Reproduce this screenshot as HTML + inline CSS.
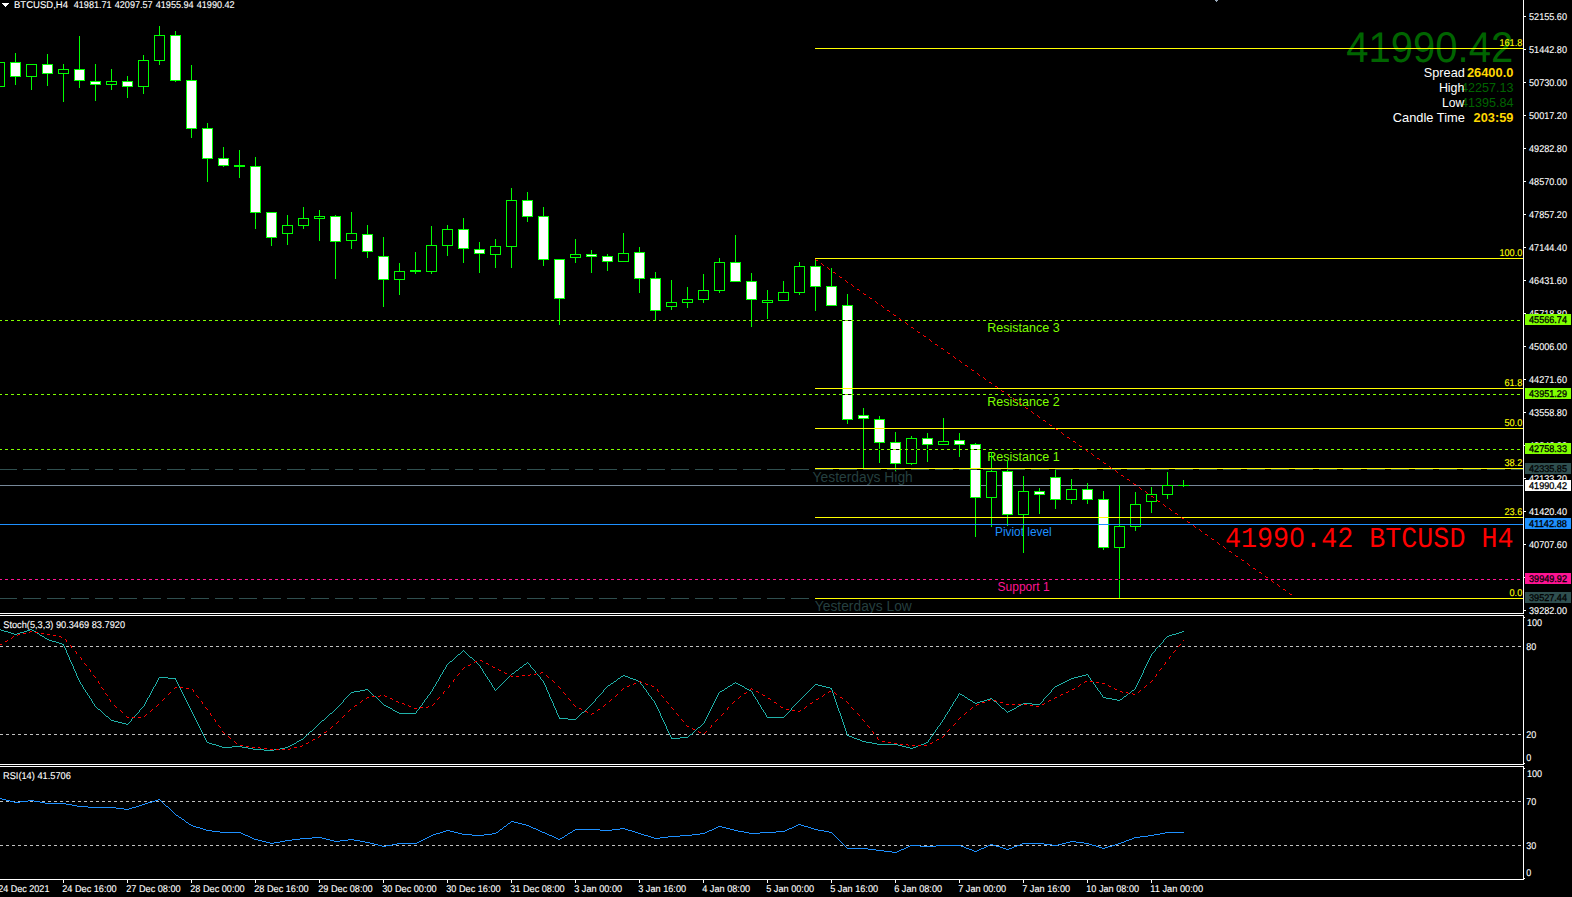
<!DOCTYPE html>
<html><head><meta charset="utf-8"><title>BTCUSD,H4</title>
<style>
html,body{margin:0;padding:0;background:#000;}
body{width:1572px;height:897px;overflow:hidden;position:relative;font-family:"Liberation Sans",sans-serif;}
svg{position:absolute;left:0;top:0;display:block}
text{white-space:pre}
</style></head><body>
<svg width="1572" height="897" viewBox="0 0 1572 897" shape-rendering="crispEdges" text-rendering="geometricPrecision">
<rect x="0" y="0" width="1572" height="897" fill="#000"/>
<text x="1513.2" y="61.7" font-size="43" fill="#006400" font-family="'Liberation Sans', sans-serif" text-anchor="end" textLength="167" lengthAdjust="spacingAndGlyphs">41990.42</text>
<text x="987.3" y="332" font-size="12.5" fill="#7FFF00" font-family="'Liberation Sans', sans-serif" textLength="72.4" lengthAdjust="spacingAndGlyphs" text-rendering="auto">Resistance 3</text>
<text x="987.3" y="406" font-size="12.5" fill="#7FFF00" font-family="'Liberation Sans', sans-serif" textLength="72.4" lengthAdjust="spacingAndGlyphs" text-rendering="auto">Resistance 2</text>
<text x="987.3" y="461" font-size="12.5" fill="#7FFF00" font-family="'Liberation Sans', sans-serif" textLength="72.4" lengthAdjust="spacingAndGlyphs" text-rendering="auto">Resistance 1</text>
<text x="995" y="536.2" font-size="12.5" fill="#1E90FF" font-family="'Liberation Sans', sans-serif" textLength="56.6" lengthAdjust="spacingAndGlyphs" text-rendering="auto">Piviot level</text>
<text x="997.6" y="591.3" font-size="12.5" fill="#FF1493" font-family="'Liberation Sans', sans-serif" textLength="52" lengthAdjust="spacingAndGlyphs" text-rendering="auto">Support 1</text>
<text x="812.6" y="482" font-size="14" fill="#2F4F4F" font-family="'Liberation Sans', sans-serif" textLength="100.2" lengthAdjust="spacingAndGlyphs" fill-opacity="0.82" text-rendering="auto">Yesterdays High</text>
<text x="814.8" y="611" font-size="14" fill="#2F4F4F" font-family="'Liberation Sans', sans-serif" textLength="97" lengthAdjust="spacingAndGlyphs" fill-opacity="0.82" text-rendering="auto">Yesterdays Low</text>
<rect x="0" y="485" width="1523" height="1" fill="#778899"/>
<rect x="-1" y="62" width="1" height="25" fill="#00FF00"/>
<rect x="-6" y="62" width="11" height="25" fill="#00FF00"/>
<rect x="-5" y="63" width="9" height="23" fill="#000"/>
<rect x="15" y="53" width="1" height="32" fill="#00FF00"/>
<rect x="10" y="62" width="11" height="15" fill="#00FF00"/>
<rect x="11" y="63" width="9" height="13" fill="#FFF"/>
<rect x="31" y="64" width="1" height="26" fill="#00FF00"/>
<rect x="26" y="64" width="11" height="13" fill="#00FF00"/>
<rect x="27" y="65" width="9" height="11" fill="#000"/>
<rect x="47" y="54" width="1" height="32" fill="#00FF00"/>
<rect x="42" y="64" width="11" height="10" fill="#00FF00"/>
<rect x="43" y="65" width="9" height="8" fill="#FFF"/>
<rect x="63" y="64" width="1" height="38" fill="#00FF00"/>
<rect x="58" y="69" width="11" height="5" fill="#00FF00"/>
<rect x="59" y="70" width="9" height="3" fill="#000"/>
<rect x="79" y="36" width="1" height="52" fill="#00FF00"/>
<rect x="74" y="69" width="11" height="12" fill="#00FF00"/>
<rect x="75" y="70" width="9" height="10" fill="#FFF"/>
<rect x="95" y="64" width="1" height="37" fill="#00FF00"/>
<rect x="90" y="81" width="11" height="4" fill="#00FF00"/>
<rect x="91" y="82" width="9" height="2" fill="#FFF"/>
<rect x="111" y="69" width="1" height="21" fill="#00FF00"/>
<rect x="106" y="81" width="11" height="4" fill="#00FF00"/>
<rect x="107" y="82" width="9" height="2" fill="#000"/>
<rect x="127" y="76" width="1" height="22" fill="#00FF00"/>
<rect x="122" y="81" width="11" height="6" fill="#00FF00"/>
<rect x="123" y="82" width="9" height="4" fill="#FFF"/>
<rect x="143" y="55" width="1" height="39" fill="#00FF00"/>
<rect x="138" y="60" width="11" height="27" fill="#00FF00"/>
<rect x="139" y="61" width="9" height="25" fill="#000"/>
<rect x="159" y="26" width="1" height="39" fill="#00FF00"/>
<rect x="154" y="35" width="11" height="26" fill="#00FF00"/>
<rect x="155" y="36" width="9" height="24" fill="#000"/>
<rect x="175" y="31" width="1" height="51" fill="#00FF00"/>
<rect x="170" y="35" width="11" height="46" fill="#00FF00"/>
<rect x="171" y="36" width="9" height="44" fill="#FFF"/>
<rect x="191" y="65" width="1" height="73" fill="#00FF00"/>
<rect x="186" y="80" width="11" height="49" fill="#00FF00"/>
<rect x="187" y="81" width="9" height="47" fill="#FFF"/>
<rect x="207" y="123" width="1" height="59" fill="#00FF00"/>
<rect x="202" y="128" width="11" height="31" fill="#00FF00"/>
<rect x="203" y="129" width="9" height="29" fill="#FFF"/>
<rect x="223" y="147" width="1" height="20" fill="#00FF00"/>
<rect x="218" y="158" width="11" height="8" fill="#00FF00"/>
<rect x="219" y="159" width="9" height="6" fill="#FFF"/>
<rect x="239" y="150" width="1" height="28" fill="#00FF00"/>
<rect x="234" y="165" width="11" height="2" fill="#00FF00"/>
<rect x="255" y="157" width="1" height="72" fill="#00FF00"/>
<rect x="250" y="166" width="11" height="47" fill="#00FF00"/>
<rect x="251" y="167" width="9" height="45" fill="#FFF"/>
<rect x="271" y="212" width="1" height="34" fill="#00FF00"/>
<rect x="266" y="212" width="11" height="26" fill="#00FF00"/>
<rect x="267" y="213" width="9" height="24" fill="#FFF"/>
<rect x="287" y="215" width="1" height="30" fill="#00FF00"/>
<rect x="282" y="225" width="11" height="9" fill="#00FF00"/>
<rect x="283" y="226" width="9" height="7" fill="#000"/>
<rect x="303" y="207" width="1" height="22" fill="#00FF00"/>
<rect x="298" y="218" width="11" height="8" fill="#00FF00"/>
<rect x="299" y="219" width="9" height="6" fill="#000"/>
<rect x="319" y="210" width="1" height="31" fill="#00FF00"/>
<rect x="314" y="216" width="11" height="3" fill="#00FF00"/>
<rect x="315" y="217" width="9" height="1" fill="#000"/>
<rect x="335" y="215" width="1" height="64" fill="#00FF00"/>
<rect x="330" y="216" width="11" height="26" fill="#00FF00"/>
<rect x="331" y="217" width="9" height="24" fill="#FFF"/>
<rect x="351" y="212" width="1" height="37" fill="#00FF00"/>
<rect x="346" y="233" width="11" height="8" fill="#00FF00"/>
<rect x="347" y="234" width="9" height="6" fill="#000"/>
<rect x="367" y="225" width="1" height="33" fill="#00FF00"/>
<rect x="362" y="234" width="11" height="18" fill="#00FF00"/>
<rect x="363" y="235" width="9" height="16" fill="#FFF"/>
<rect x="383" y="237" width="1" height="70" fill="#00FF00"/>
<rect x="378" y="256" width="11" height="24" fill="#00FF00"/>
<rect x="379" y="257" width="9" height="22" fill="#FFF"/>
<rect x="399" y="263" width="1" height="32" fill="#00FF00"/>
<rect x="394" y="271" width="11" height="9" fill="#00FF00"/>
<rect x="395" y="272" width="9" height="7" fill="#000"/>
<rect x="415" y="252" width="1" height="22" fill="#00FF00"/>
<rect x="410" y="270" width="11" height="2" fill="#00FF00"/>
<rect x="431" y="226" width="1" height="48" fill="#00FF00"/>
<rect x="426" y="245" width="11" height="27" fill="#00FF00"/>
<rect x="427" y="246" width="9" height="25" fill="#000"/>
<rect x="447" y="225" width="1" height="31" fill="#00FF00"/>
<rect x="442" y="229" width="11" height="17" fill="#00FF00"/>
<rect x="443" y="230" width="9" height="15" fill="#000"/>
<rect x="463" y="218" width="1" height="45" fill="#00FF00"/>
<rect x="458" y="229" width="11" height="20" fill="#00FF00"/>
<rect x="459" y="230" width="9" height="18" fill="#FFF"/>
<rect x="479" y="242" width="1" height="31" fill="#00FF00"/>
<rect x="474" y="249" width="11" height="5" fill="#00FF00"/>
<rect x="475" y="250" width="9" height="3" fill="#FFF"/>
<rect x="495" y="239" width="1" height="29" fill="#00FF00"/>
<rect x="490" y="246" width="11" height="9" fill="#00FF00"/>
<rect x="491" y="247" width="9" height="7" fill="#000"/>
<rect x="511" y="188" width="1" height="80" fill="#00FF00"/>
<rect x="506" y="200" width="11" height="47" fill="#00FF00"/>
<rect x="507" y="201" width="9" height="45" fill="#000"/>
<rect x="527" y="192" width="1" height="30" fill="#00FF00"/>
<rect x="522" y="200" width="11" height="17" fill="#00FF00"/>
<rect x="523" y="201" width="9" height="15" fill="#FFF"/>
<rect x="543" y="207" width="1" height="59" fill="#00FF00"/>
<rect x="538" y="216" width="11" height="44" fill="#00FF00"/>
<rect x="539" y="217" width="9" height="42" fill="#FFF"/>
<rect x="559" y="259" width="1" height="66" fill="#00FF00"/>
<rect x="554" y="259" width="11" height="40" fill="#00FF00"/>
<rect x="555" y="260" width="9" height="38" fill="#FFF"/>
<rect x="575" y="239" width="1" height="24" fill="#00FF00"/>
<rect x="570" y="254" width="11" height="4" fill="#00FF00"/>
<rect x="571" y="255" width="9" height="2" fill="#000"/>
<rect x="591" y="250" width="1" height="23" fill="#00FF00"/>
<rect x="586" y="254" width="11" height="3" fill="#00FF00"/>
<rect x="587" y="255" width="9" height="1" fill="#FFF"/>
<rect x="607" y="254" width="1" height="17" fill="#00FF00"/>
<rect x="602" y="256" width="11" height="6" fill="#00FF00"/>
<rect x="603" y="257" width="9" height="4" fill="#FFF"/>
<rect x="623" y="233" width="1" height="29" fill="#00FF00"/>
<rect x="618" y="253" width="11" height="9" fill="#00FF00"/>
<rect x="619" y="254" width="9" height="7" fill="#000"/>
<rect x="639" y="247" width="1" height="46" fill="#00FF00"/>
<rect x="634" y="252" width="11" height="27" fill="#00FF00"/>
<rect x="635" y="253" width="9" height="25" fill="#FFF"/>
<rect x="655" y="272" width="1" height="49" fill="#00FF00"/>
<rect x="650" y="278" width="11" height="33" fill="#00FF00"/>
<rect x="651" y="279" width="9" height="31" fill="#FFF"/>
<rect x="671" y="280" width="1" height="30" fill="#00FF00"/>
<rect x="666" y="302" width="11" height="5" fill="#00FF00"/>
<rect x="667" y="303" width="9" height="3" fill="#000"/>
<rect x="687" y="287" width="1" height="21" fill="#00FF00"/>
<rect x="682" y="299" width="11" height="4" fill="#00FF00"/>
<rect x="683" y="300" width="9" height="2" fill="#000"/>
<rect x="703" y="274" width="1" height="29" fill="#00FF00"/>
<rect x="698" y="290" width="11" height="10" fill="#00FF00"/>
<rect x="699" y="291" width="9" height="8" fill="#000"/>
<rect x="719" y="258" width="1" height="35" fill="#00FF00"/>
<rect x="714" y="262" width="11" height="29" fill="#00FF00"/>
<rect x="715" y="263" width="9" height="27" fill="#000"/>
<rect x="735" y="235" width="1" height="47" fill="#00FF00"/>
<rect x="730" y="262" width="11" height="20" fill="#00FF00"/>
<rect x="731" y="263" width="9" height="18" fill="#FFF"/>
<rect x="751" y="273" width="1" height="54" fill="#00FF00"/>
<rect x="746" y="281" width="11" height="19" fill="#00FF00"/>
<rect x="747" y="282" width="9" height="17" fill="#FFF"/>
<rect x="767" y="290" width="1" height="29" fill="#00FF00"/>
<rect x="762" y="300" width="11" height="3" fill="#00FF00"/>
<rect x="763" y="301" width="9" height="1" fill="#000"/>
<rect x="783" y="281" width="1" height="20" fill="#00FF00"/>
<rect x="778" y="292" width="11" height="9" fill="#00FF00"/>
<rect x="779" y="293" width="9" height="7" fill="#000"/>
<rect x="799" y="262" width="1" height="33" fill="#00FF00"/>
<rect x="794" y="266" width="11" height="27" fill="#00FF00"/>
<rect x="795" y="267" width="9" height="25" fill="#000"/>
<rect x="815" y="258" width="1" height="53" fill="#00FF00"/>
<rect x="810" y="266" width="11" height="21" fill="#00FF00"/>
<rect x="811" y="267" width="9" height="19" fill="#FFF"/>
<rect x="831" y="268" width="1" height="38" fill="#00FF00"/>
<rect x="826" y="286" width="11" height="20" fill="#00FF00"/>
<rect x="827" y="287" width="9" height="18" fill="#FFF"/>
<rect x="847" y="294" width="1" height="130" fill="#00FF00"/>
<rect x="842" y="305" width="11" height="115" fill="#00FF00"/>
<rect x="843" y="306" width="9" height="113" fill="#FFF"/>
<rect x="863" y="408" width="1" height="61" fill="#00FF00"/>
<rect x="858" y="415" width="11" height="4" fill="#00FF00"/>
<rect x="859" y="416" width="9" height="2" fill="#FFF"/>
<rect x="879" y="416" width="1" height="47" fill="#00FF00"/>
<rect x="874" y="419" width="11" height="24" fill="#00FF00"/>
<rect x="875" y="420" width="9" height="22" fill="#FFF"/>
<rect x="895" y="432" width="1" height="39" fill="#00FF00"/>
<rect x="890" y="442" width="11" height="22" fill="#00FF00"/>
<rect x="891" y="443" width="9" height="20" fill="#FFF"/>
<rect x="911" y="436" width="1" height="29" fill="#00FF00"/>
<rect x="906" y="438" width="11" height="26" fill="#00FF00"/>
<rect x="907" y="439" width="9" height="24" fill="#000"/>
<rect x="927" y="433" width="1" height="29" fill="#00FF00"/>
<rect x="922" y="438" width="11" height="7" fill="#00FF00"/>
<rect x="923" y="439" width="9" height="5" fill="#FFF"/>
<rect x="943" y="418" width="1" height="27" fill="#00FF00"/>
<rect x="938" y="441" width="11" height="4" fill="#00FF00"/>
<rect x="939" y="442" width="9" height="2" fill="#000"/>
<rect x="959" y="433" width="1" height="24" fill="#00FF00"/>
<rect x="954" y="440" width="11" height="5" fill="#00FF00"/>
<rect x="955" y="441" width="9" height="3" fill="#FFF"/>
<rect x="975" y="443" width="1" height="94" fill="#00FF00"/>
<rect x="970" y="444" width="11" height="54" fill="#00FF00"/>
<rect x="971" y="445" width="9" height="52" fill="#FFF"/>
<rect x="991" y="452" width="1" height="75" fill="#00FF00"/>
<rect x="986" y="471" width="11" height="27" fill="#00FF00"/>
<rect x="987" y="472" width="9" height="25" fill="#000"/>
<rect x="1007" y="460" width="1" height="66" fill="#00FF00"/>
<rect x="1002" y="471" width="11" height="44" fill="#00FF00"/>
<rect x="1003" y="472" width="9" height="42" fill="#FFF"/>
<rect x="1023" y="476" width="1" height="77" fill="#00FF00"/>
<rect x="1018" y="491" width="11" height="24" fill="#00FF00"/>
<rect x="1019" y="492" width="9" height="22" fill="#000"/>
<rect x="1039" y="488" width="1" height="26" fill="#00FF00"/>
<rect x="1034" y="491" width="11" height="4" fill="#00FF00"/>
<rect x="1035" y="492" width="9" height="2" fill="#FFF"/>
<rect x="1055" y="470" width="1" height="39" fill="#00FF00"/>
<rect x="1050" y="477" width="11" height="23" fill="#00FF00"/>
<rect x="1051" y="478" width="9" height="21" fill="#FFF"/>
<rect x="1071" y="479" width="1" height="25" fill="#00FF00"/>
<rect x="1066" y="489" width="11" height="11" fill="#00FF00"/>
<rect x="1067" y="490" width="9" height="9" fill="#000"/>
<rect x="1087" y="483" width="1" height="21" fill="#00FF00"/>
<rect x="1082" y="489" width="11" height="11" fill="#00FF00"/>
<rect x="1083" y="490" width="9" height="9" fill="#FFF"/>
<rect x="1103" y="491" width="1" height="59" fill="#00FF00"/>
<rect x="1098" y="499" width="11" height="49" fill="#00FF00"/>
<rect x="1099" y="500" width="9" height="47" fill="#FFF"/>
<rect x="1119" y="485" width="1" height="114" fill="#00FF00"/>
<rect x="1114" y="526" width="11" height="22" fill="#00FF00"/>
<rect x="1115" y="527" width="9" height="20" fill="#000"/>
<rect x="1135" y="492" width="1" height="39" fill="#00FF00"/>
<rect x="1130" y="504" width="11" height="23" fill="#00FF00"/>
<rect x="1131" y="505" width="9" height="21" fill="#000"/>
<rect x="1151" y="487" width="1" height="26" fill="#00FF00"/>
<rect x="1146" y="494" width="11" height="8" fill="#00FF00"/>
<rect x="1147" y="495" width="9" height="6" fill="#000"/>
<rect x="1167" y="472" width="1" height="27" fill="#00FF00"/>
<rect x="1162" y="485" width="11" height="10" fill="#00FF00"/>
<rect x="1163" y="486" width="9" height="8" fill="#000"/>
<rect x="1183" y="480" width="1" height="7" fill="#00FF00"/>
<rect x="1178" y="485" width="11" height="1" fill="#00FF00"/>
<rect x="0" y="469" width="1523" height="1" fill="#000"/>
<line x1="0" y1="469.5" x2="1523" y2="469.5" stroke="#2F4F4F" stroke-width="1" stroke-dasharray="18 6" stroke-dashoffset="1"/>
<rect x="0" y="598" width="1523" height="1" fill="#000"/>
<line x1="0" y1="598.5" x2="1523" y2="598.5" stroke="#2F4F4F" stroke-width="1" stroke-dasharray="18 6" stroke-dashoffset="1"/>
<rect x="0" y="320" width="1523" height="1" fill="#000"/>
<line x1="0" y1="320.5" x2="1523" y2="320.5" stroke="#7FFF00" stroke-width="1" stroke-dasharray="3 3" stroke-dashoffset="1"/>
<rect x="0" y="394" width="1523" height="1" fill="#000"/>
<line x1="0" y1="394.5" x2="1523" y2="394.5" stroke="#7FFF00" stroke-width="1" stroke-dasharray="3 3" stroke-dashoffset="1"/>
<rect x="0" y="449" width="1523" height="1" fill="#000"/>
<line x1="0" y1="449.5" x2="1523" y2="449.5" stroke="#7FFF00" stroke-width="1" stroke-dasharray="3 3" stroke-dashoffset="1"/>
<rect x="0" y="579" width="1523" height="1" fill="#000"/>
<line x1="0" y1="579.5" x2="1523" y2="579.5" stroke="#FF1493" stroke-width="1" stroke-dasharray="3 3" stroke-dashoffset="1"/>
<rect x="0" y="524" width="1523" height="1" fill="#1E90FF"/>
<rect x="815" y="48" width="708" height="1" fill="#FFFF00"/>
<rect x="815" y="258" width="708" height="1" fill="#FFFF00"/>
<rect x="815" y="388" width="708" height="1" fill="#FFFF00"/>
<rect x="815" y="428" width="708" height="1" fill="#FFFF00"/>
<rect x="815" y="468" width="708" height="1" fill="#FFFF00"/>
<rect x="815" y="517" width="708" height="1" fill="#FFFF00"/>
<rect x="815" y="598" width="708" height="1" fill="#FFFF00"/>
<path d="M816 260.5h2M833 272.5h2M840 277.5h2M857 289.5h2M864 294.5h2M870 298.5h2M887 310.5h2M894 315.5h2M911 327.5h2M918 332.5h2M924 336.5h2M935 344.5h2M941 348.5h2M948 353.5h2M965 365.5h2M972 370.5h2M989 382.5h2M995 386.5h2M1002 391.5h2M1019 403.5h2M1026 408.5h2M1043 420.5h2M1050 425.5h2M1056 429.5h2M1067 437.5h2M1073 441.5h2M1080 446.5h2M1097 458.5h2M1104 463.5h2M1121 475.5h2M1127 479.5h2M1134 484.5h2M1151 496.5h2M1158 501.5h2M1175 513.5h2M1182 518.5h2M1188 522.5h2M1205 534.5h2M1212 539.5h2M1229 551.5h2M1236 556.5h2M1242 560.5h2M1253 568.5h2M1259 572.5h2M1266 577.5h2M1283 589.5h2M1290 594.5h2M815.5 259v1M821.5 263v1M822.5 264v1M823.5 265v1M827.5 267v1M828.5 268v1M829.5 269v1M835.5 273v1M839.5 276v1M845.5 280v1M846.5 281v1M847.5 282v1M851.5 284v1M852.5 285v1M853.5 286v1M859.5 290v1M863.5 293v1M869.5 297v1M875.5 301v1M876.5 302v1M877.5 303v1M881.5 305v1M882.5 306v1M883.5 307v1M889.5 311v1M893.5 314v1M899.5 318v1M900.5 319v1M901.5 320v1M905.5 322v1M906.5 323v1M907.5 324v1M913.5 328v1M917.5 331v1M923.5 335v1M929.5 339v1M930.5 340v1M931.5 341v1M937.5 345v1M943.5 349v1M947.5 352v1M953.5 356v1M954.5 357v1M955.5 358v1M959.5 360v1M960.5 361v1M961.5 362v1M967.5 366v1M971.5 369v1M977.5 373v1M978.5 374v1M979.5 375v1M983.5 377v1M984.5 378v1M985.5 379v1M991.5 383v1M997.5 387v1M1001.5 390v1M1007.5 394v1M1008.5 395v1M1009.5 396v1M1013.5 398v1M1014.5 399v1M1015.5 400v1M1021.5 404v1M1025.5 407v1M1031.5 411v1M1032.5 412v1M1033.5 413v1M1037.5 415v1M1038.5 416v1M1039.5 417v1M1045.5 421v1M1049.5 424v1M1055.5 428v1M1061.5 432v1M1062.5 433v1M1063.5 434v1M1069.5 438v1M1075.5 442v1M1079.5 445v1M1085.5 449v1M1086.5 450v1M1087.5 451v1M1091.5 453v1M1092.5 454v1M1093.5 455v1M1099.5 459v1M1103.5 462v1M1109.5 466v1M1110.5 467v1M1111.5 468v1M1115.5 470v1M1116.5 471v1M1117.5 472v1M1123.5 476v1M1129.5 480v1M1133.5 483v1M1139.5 487v1M1140.5 488v1M1141.5 489v1M1145.5 491v1M1146.5 492v1M1147.5 493v1M1153.5 497v1M1157.5 500v1M1163.5 504v1M1164.5 505v1M1165.5 506v1M1169.5 508v1M1170.5 509v1M1171.5 510v1M1177.5 514v1M1181.5 517v1M1187.5 521v1M1193.5 525v1M1194.5 526v1M1195.5 527v1M1199.5 529v1M1200.5 530v1M1201.5 531v1M1207.5 535v1M1211.5 538v1M1217.5 542v1M1218.5 543v1M1219.5 544v1M1223.5 546v1M1224.5 547v1M1225.5 548v1M1231.5 552v1M1235.5 555v1M1241.5 559v1M1247.5 563v1M1248.5 564v1M1249.5 565v1M1255.5 569v1M1261.5 573v1M1265.5 576v1M1271.5 580v1M1272.5 581v1M1273.5 582v1M1277.5 584v1M1278.5 585v1M1279.5 586v1M1285.5 590v1M1289.5 593v1" stroke="#FF0000" stroke-width="1" fill="none"/>
<text x="1464.8" y="76.6" font-size="13" fill="#FFF" font-family="'Liberation Sans', sans-serif" text-anchor="end" textLength="41" lengthAdjust="spacingAndGlyphs" text-rendering="auto">Spread</text>
<text x="1513.4" y="76.6" font-size="13" fill="#FFD700" font-family="'Liberation Sans', sans-serif" text-anchor="end" textLength="46.5" lengthAdjust="spacingAndGlyphs" font-weight="bold" text-rendering="auto">26400.0</text>
<text x="1513.4" y="91.6" font-size="13" fill="#006400" font-family="'Liberation Sans', sans-serif" text-anchor="end" textLength="52.5" lengthAdjust="spacingAndGlyphs" text-rendering="auto">42257.13</text>
<text x="1464.4" y="91.6" font-size="13" fill="#FFF" font-family="'Liberation Sans', sans-serif" text-anchor="end" textLength="25.5" lengthAdjust="spacingAndGlyphs" text-rendering="auto">High</text>
<text x="1513.4" y="106.7" font-size="13" fill="#006400" font-family="'Liberation Sans', sans-serif" text-anchor="end" textLength="52.5" lengthAdjust="spacingAndGlyphs" text-rendering="auto">41395.84</text>
<text x="1464.2" y="106.7" font-size="13" fill="#FFF" font-family="'Liberation Sans', sans-serif" text-anchor="end" textLength="22.3" lengthAdjust="spacingAndGlyphs" text-rendering="auto">Low</text>
<text x="1464.8" y="121.6" font-size="13" fill="#FFF" font-family="'Liberation Sans', sans-serif" text-anchor="end" textLength="72" lengthAdjust="spacingAndGlyphs" text-rendering="auto">Candle Time</text>
<text x="1513.4" y="121.6" font-size="13" fill="#FFD700" font-family="'Liberation Sans', sans-serif" text-anchor="end" textLength="39.8" lengthAdjust="spacingAndGlyphs" font-weight="bold" text-rendering="auto">203:59</text>
<text x="1225" y="546.7" font-size="29" fill="#FF0000" font-family="'Liberation Mono', monospace" textLength="288.5" lengthAdjust="spacingAndGlyphs">41990.42 BTCUSD H4</text>
<rect x="1295" y="534" width="5" height="7" fill="#000"/>
<text x="1522.3" y="46" font-size="9.8" fill="#FFFF00" font-family="'Liberation Sans', sans-serif" text-anchor="end" textLength="22.9" lengthAdjust="spacingAndGlyphs" stroke="#FFFF00" stroke-width="0.1">161.8</text>
<text x="1522.3" y="256" font-size="9.8" fill="#FFFF00" font-family="'Liberation Sans', sans-serif" text-anchor="end" textLength="22.9" lengthAdjust="spacingAndGlyphs" stroke="#FFFF00" stroke-width="0.1">100.0</text>
<text x="1522.3" y="386" font-size="9.8" fill="#FFFF00" font-family="'Liberation Sans', sans-serif" text-anchor="end" textLength="17.9" lengthAdjust="spacingAndGlyphs" stroke="#FFFF00" stroke-width="0.1">61.8</text>
<text x="1522.3" y="426" font-size="9.8" fill="#FFFF00" font-family="'Liberation Sans', sans-serif" text-anchor="end" textLength="17.9" lengthAdjust="spacingAndGlyphs" stroke="#FFFF00" stroke-width="0.1">50.0</text>
<text x="1522.3" y="466" font-size="9.8" fill="#FFFF00" font-family="'Liberation Sans', sans-serif" text-anchor="end" textLength="17.9" lengthAdjust="spacingAndGlyphs" stroke="#FFFF00" stroke-width="0.1">38.2</text>
<text x="1522.3" y="515" font-size="9.8" fill="#FFFF00" font-family="'Liberation Sans', sans-serif" text-anchor="end" textLength="17.9" lengthAdjust="spacingAndGlyphs" stroke="#FFFF00" stroke-width="0.1">23.6</text>
<text x="1522.3" y="596" font-size="9.8" fill="#FFFF00" font-family="'Liberation Sans', sans-serif" text-anchor="end" textLength="12.8" lengthAdjust="spacingAndGlyphs" stroke="#FFFF00" stroke-width="0.1">0.0</text>
<rect x="1523" y="0" width="1" height="614" fill="#FFF"/>
<rect x="0" y="613" width="1524" height="1" fill="#FFF"/>
<rect x="0" y="615" width="1524" height="1" fill="#FFF"/>
<rect x="1523" y="615" width="1" height="150" fill="#FFF"/>
<rect x="0" y="764" width="1524" height="1" fill="#FFF"/>
<rect x="0" y="766" width="1524" height="1" fill="#FFF"/>
<rect x="1523" y="766" width="1" height="114" fill="#FFF"/>
<rect x="0" y="879" width="1524" height="1" fill="#FFF"/>
<rect x="1524" y="16" width="2" height="1" fill="#FFF"/>
<text x="1529" y="20" font-size="9.8" fill="#FFF" font-family="'Liberation Sans', sans-serif" textLength="38" lengthAdjust="spacingAndGlyphs" stroke="#FFF" stroke-width="0.1">52155.60</text>
<rect x="1524" y="49" width="2" height="1" fill="#FFF"/>
<text x="1529" y="53" font-size="9.8" fill="#FFF" font-family="'Liberation Sans', sans-serif" textLength="38" lengthAdjust="spacingAndGlyphs" stroke="#FFF" stroke-width="0.1">51442.80</text>
<rect x="1524" y="82" width="2" height="1" fill="#FFF"/>
<text x="1529" y="86" font-size="9.8" fill="#FFF" font-family="'Liberation Sans', sans-serif" textLength="38" lengthAdjust="spacingAndGlyphs" stroke="#FFF" stroke-width="0.1">50730.00</text>
<rect x="1524" y="115" width="2" height="1" fill="#FFF"/>
<text x="1529" y="119" font-size="9.8" fill="#FFF" font-family="'Liberation Sans', sans-serif" textLength="38" lengthAdjust="spacingAndGlyphs" stroke="#FFF" stroke-width="0.1">50017.20</text>
<rect x="1524" y="148" width="2" height="1" fill="#FFF"/>
<text x="1529" y="152" font-size="9.8" fill="#FFF" font-family="'Liberation Sans', sans-serif" textLength="38" lengthAdjust="spacingAndGlyphs" stroke="#FFF" stroke-width="0.1">49282.80</text>
<rect x="1524" y="181" width="2" height="1" fill="#FFF"/>
<text x="1529" y="185" font-size="9.8" fill="#FFF" font-family="'Liberation Sans', sans-serif" textLength="38" lengthAdjust="spacingAndGlyphs" stroke="#FFF" stroke-width="0.1">48570.00</text>
<rect x="1524" y="214" width="2" height="1" fill="#FFF"/>
<text x="1529" y="218" font-size="9.8" fill="#FFF" font-family="'Liberation Sans', sans-serif" textLength="38" lengthAdjust="spacingAndGlyphs" stroke="#FFF" stroke-width="0.1">47857.20</text>
<rect x="1524" y="247" width="2" height="1" fill="#FFF"/>
<text x="1529" y="251" font-size="9.8" fill="#FFF" font-family="'Liberation Sans', sans-serif" textLength="38" lengthAdjust="spacingAndGlyphs" stroke="#FFF" stroke-width="0.1">47144.40</text>
<rect x="1524" y="280" width="2" height="1" fill="#FFF"/>
<text x="1529" y="284" font-size="9.8" fill="#FFF" font-family="'Liberation Sans', sans-serif" textLength="38" lengthAdjust="spacingAndGlyphs" stroke="#FFF" stroke-width="0.1">46431.60</text>
<rect x="1524" y="313" width="2" height="1" fill="#FFF"/>
<text x="1529" y="317" font-size="9.8" fill="#FFF" font-family="'Liberation Sans', sans-serif" textLength="38" lengthAdjust="spacingAndGlyphs" stroke="#FFF" stroke-width="0.1">45718.80</text>
<rect x="1524" y="346" width="2" height="1" fill="#FFF"/>
<text x="1529" y="350" font-size="9.8" fill="#FFF" font-family="'Liberation Sans', sans-serif" textLength="38" lengthAdjust="spacingAndGlyphs" stroke="#FFF" stroke-width="0.1">45006.00</text>
<rect x="1524" y="379" width="2" height="1" fill="#FFF"/>
<text x="1529" y="383" font-size="9.8" fill="#FFF" font-family="'Liberation Sans', sans-serif" textLength="38" lengthAdjust="spacingAndGlyphs" stroke="#FFF" stroke-width="0.1">44271.60</text>
<rect x="1524" y="412" width="2" height="1" fill="#FFF"/>
<text x="1529" y="416" font-size="9.8" fill="#FFF" font-family="'Liberation Sans', sans-serif" textLength="38" lengthAdjust="spacingAndGlyphs" stroke="#FFF" stroke-width="0.1">43558.80</text>
<rect x="1524" y="445" width="2" height="1" fill="#FFF"/>
<text x="1529" y="449" font-size="9.8" fill="#FFF" font-family="'Liberation Sans', sans-serif" textLength="38" lengthAdjust="spacingAndGlyphs" stroke="#FFF" stroke-width="0.1">42846.00</text>
<rect x="1524" y="478" width="2" height="1" fill="#FFF"/>
<text x="1529" y="482" font-size="9.8" fill="#FFF" font-family="'Liberation Sans', sans-serif" textLength="38" lengthAdjust="spacingAndGlyphs" stroke="#FFF" stroke-width="0.1">42133.20</text>
<rect x="1524" y="511" width="2" height="1" fill="#FFF"/>
<text x="1529" y="515" font-size="9.8" fill="#FFF" font-family="'Liberation Sans', sans-serif" textLength="38" lengthAdjust="spacingAndGlyphs" stroke="#FFF" stroke-width="0.1">41420.40</text>
<rect x="1524" y="544" width="2" height="1" fill="#FFF"/>
<text x="1529" y="548" font-size="9.8" fill="#FFF" font-family="'Liberation Sans', sans-serif" textLength="38" lengthAdjust="spacingAndGlyphs" stroke="#FFF" stroke-width="0.1">40707.60</text>
<rect x="1524" y="577" width="2" height="1" fill="#FFF"/>
<text x="1529" y="581" font-size="9.8" fill="#FFF" font-family="'Liberation Sans', sans-serif" textLength="38" lengthAdjust="spacingAndGlyphs" stroke="#FFF" stroke-width="0.1">39994.80</text>
<rect x="1524" y="610" width="2" height="1" fill="#FFF"/>
<text x="1529" y="614" font-size="9.8" fill="#FFF" font-family="'Liberation Sans', sans-serif" textLength="38" lengthAdjust="spacingAndGlyphs" stroke="#FFF" stroke-width="0.1">39282.00</text>
<rect x="1525" y="314" width="46" height="11" fill="#7FFF00"/>
<text x="1529" y="323" font-size="9.8" fill="#000" font-family="'Liberation Sans', sans-serif" textLength="38" lengthAdjust="spacingAndGlyphs" stroke="#000" stroke-width="0.3">45566.74</text>
<rect x="1525" y="388" width="46" height="11" fill="#7FFF00"/>
<text x="1529" y="397" font-size="9.8" fill="#000" font-family="'Liberation Sans', sans-serif" textLength="38" lengthAdjust="spacingAndGlyphs" stroke="#000" stroke-width="0.3">43951.29</text>
<rect x="1525" y="443" width="46" height="11" fill="#7FFF00"/>
<text x="1529" y="452" font-size="9.8" fill="#000" font-family="'Liberation Sans', sans-serif" textLength="38" lengthAdjust="spacingAndGlyphs" stroke="#000" stroke-width="0.3">42758.33</text>
<rect x="1525" y="463" width="46" height="11" fill="#2F4F4F"/>
<text x="1529" y="472" font-size="9.8" fill="#000" font-family="'Liberation Sans', sans-serif" textLength="38" lengthAdjust="spacingAndGlyphs" stroke="#000" stroke-width="0.3">42335.85</text>
<rect x="1525" y="518" width="46" height="11" fill="#1E90FF"/>
<text x="1529" y="527" font-size="9.8" fill="#000" font-family="'Liberation Sans', sans-serif" textLength="38" lengthAdjust="spacingAndGlyphs" stroke="#000" stroke-width="0.3">41142.88</text>
<rect x="1525" y="573" width="46" height="11" fill="#FF1493"/>
<text x="1529" y="582" font-size="9.8" fill="#000" font-family="'Liberation Sans', sans-serif" textLength="38" lengthAdjust="spacingAndGlyphs" stroke="#000" stroke-width="0.3">39949.92</text>
<rect x="1525" y="592" width="46" height="11" fill="#2F4F4F"/>
<text x="1529" y="601" font-size="9.8" fill="#000" font-family="'Liberation Sans', sans-serif" textLength="38" lengthAdjust="spacingAndGlyphs" stroke="#000" stroke-width="0.3">39527.44</text>
<rect x="1525" y="480" width="46" height="11" fill="#FFF"/>
<text x="1529" y="489" font-size="9.8" fill="#000" font-family="'Liberation Sans', sans-serif" textLength="38" lengthAdjust="spacingAndGlyphs" stroke="#000" stroke-width="0.3">41990.42</text>
<line x1="0" y1="646.5" x2="1522" y2="646.5" stroke="#C0C0C0" stroke-width="1" stroke-dasharray="3 3" stroke-dashoffset="0"/>
<line x1="0" y1="734.5" x2="1522" y2="734.5" stroke="#C0C0C0" stroke-width="1" stroke-dasharray="3 3" stroke-dashoffset="0"/>
<path d="M1 630.5h3M4 631.5h4M8 632.5h3M11 633.5h3M14 634.5h3M17 633.5h3M20 632.5h4M24 631.5h3M27 630.5h3M30 629.5h2M32 630.5h2M34 631.5h2M37 633.5h2M40 635.5h2M42 636.5h2M45 638.5h2M47 639.5h2M49 640.5h3M52 641.5h4M56 642.5h3M59 643.5h3M62 644.5h2M98 709.5h2M106 716.5h2M111 720.5h3M114 721.5h4M118 722.5h4M122 723.5h4M126 724.5h2M159 677.5h9M168 678.5h8M207 742.5h2M209 743.5h3M212 744.5h4M216 745.5h3M219 746.5h3M222 747.5h10M232 746.5h10M242 747.5h6M248 748.5h5M253 749.5h11M264 750.5h10M274 749.5h6M280 748.5h5M285 747.5h3M288 746.5h2M290 745.5h2M292 744.5h2M294 743.5h2M297 741.5h2M299 740.5h2M301 739.5h2M310 731.5h2M322 720.5h2M330 713.5h2M351 692.5h3M354 691.5h6M360 690.5h5M365 689.5h3M374 696.5h2M384 705.5h2M386 706.5h2M388 707.5h2M390 708.5h2M393 710.5h2M395 711.5h2M397 712.5h2M399 713.5h17M450 661.5h2M458 654.5h2M470 657.5h2M512 673.5h2M516 670.5h2M520 667.5h2M524 664.5h2M559 718.5h9M568 719.5h8M582 712.5h2M608 685.5h2M611 683.5h2M614 681.5h2M618 678.5h2M621 676.5h2M623 675.5h2M625 676.5h3M628 677.5h2M630 678.5h3M633 679.5h3M636 680.5h2M638 681.5h2M671 738.5h9M680 737.5h8M690 734.5h2M698 727.5h2M720 691.5h2M722 690.5h2M725 688.5h2M728 686.5h2M730 685.5h2M733 683.5h2M736 683.5h2M738 684.5h2M740 685.5h2M742 686.5h2M745 688.5h2M747 689.5h2M749 690.5h2M767 717.5h17M815 684.5h3M818 685.5h4M822 686.5h4M826 687.5h4M830 688.5h2M847 735.5h2M849 736.5h3M852 737.5h2M854 738.5h3M857 739.5h3M860 740.5h2M862 741.5h4M866 742.5h6M872 743.5h5M877 744.5h21M898 745.5h4M902 746.5h4M906 747.5h4M910 748.5h3M913 747.5h3M916 746.5h2M918 745.5h3M921 744.5h3M924 743.5h2M926 742.5h2M960 694.5h2M962 695.5h2M965 697.5h2M968 699.5h2M970 700.5h2M973 702.5h2M975 703.5h2M977 702.5h3M980 701.5h4M984 700.5h3M987 699.5h3M990 698.5h2M994 701.5h2M1002 708.5h2M1008 711.5h2M1010 710.5h2M1012 709.5h2M1014 708.5h2M1017 706.5h2M1019 705.5h2M1021 704.5h2M1023 703.5h9M1032 704.5h8M1055 686.5h2M1057 685.5h2M1059 684.5h2M1061 683.5h2M1063 682.5h2M1065 681.5h2M1067 680.5h2M1069 679.5h2M1071 678.5h3M1074 677.5h4M1078 676.5h4M1082 675.5h4M1086 674.5h2M1103 697.5h3M1106 698.5h6M1112 699.5h5M1117 700.5h3M1120 699.5h2M1124 696.5h2M1128 693.5h2M1132 690.5h2M1167 636.5h2M1169 635.5h3M1172 634.5h4M1176 633.5h3M1179 632.5h3M1182 631.5h2M0.5 629v1M36.5 632v1M39.5 634v1M44.5 637v1M63.5 645v1M64.5 646v2M65.5 648v2M66.5 650v3M67.5 653v2M68.5 655v2M69.5 657v3M70.5 660v2M71.5 662v2M72.5 664v2M73.5 666v3M74.5 669v2M75.5 671v2M76.5 673v3M77.5 676v2M78.5 678v2M79.5 680v2M80.5 682v2M81.5 684v1M82.5 685v2M83.5 687v2M84.5 689v1M85.5 690v2M86.5 692v1M87.5 693v2M88.5 695v1M89.5 696v2M90.5 698v1M91.5 699v2M92.5 701v2M93.5 703v1M94.5 704v2M95.5 706v1M96.5 707v1M97.5 708v1M100.5 710v1M101.5 711v1M102.5 712v1M103.5 713v1M104.5 714v1M105.5 715v1M108.5 717v1M109.5 718v1M110.5 719v1M128.5 723v1M129.5 722v1M130.5 721v1M131.5 719v2M132.5 718v1M133.5 717v1M134.5 716v1M135.5 715v1M136.5 714v1M137.5 713v1M138.5 712v1M139.5 710v2M140.5 709v1M141.5 708v1M142.5 707v1M143.5 706v1M144.5 704v2M145.5 702v2M146.5 700v2M147.5 698v2M148.5 697v1M149.5 695v2M150.5 693v2M151.5 691v2M152.5 689v2M153.5 687v2M154.5 686v1M155.5 684v2M156.5 682v2M157.5 680v2M158.5 678v2M175.5 679v1M176.5 680v2M177.5 682v2M178.5 684v2M179.5 686v2M180.5 688v2M181.5 690v2M182.5 692v2M183.5 694v2M184.5 696v2M185.5 698v2M186.5 700v2M187.5 702v2M188.5 704v2M189.5 706v2M190.5 708v2M191.5 710v2M192.5 712v2M193.5 714v2M194.5 716v2M195.5 718v2M196.5 720v2M197.5 722v2M198.5 724v2M199.5 726v2M200.5 728v2M201.5 730v2M202.5 732v2M203.5 734v2M204.5 736v2M205.5 738v2M206.5 740v2M296.5 742v1M303.5 738v1M304.5 737v1M305.5 736v1M306.5 735v1M307.5 734v1M308.5 733v1M309.5 732v1M312.5 730v1M313.5 729v1M314.5 728v1M315.5 727v1M316.5 726v1M317.5 725v1M318.5 724v1M319.5 723v1M320.5 722v1M321.5 721v1M324.5 719v1M325.5 718v1M326.5 717v1M327.5 716v1M328.5 715v1M329.5 714v1M332.5 712v1M333.5 711v1M334.5 710v1M335.5 709v1M336.5 708v1M337.5 707v1M338.5 706v1M339.5 705v1M340.5 704v1M341.5 703v1M342.5 702v1M343.5 700v2M344.5 699v1M345.5 698v1M346.5 697v1M347.5 696v1M348.5 695v1M349.5 694v1M350.5 693v1M368.5 690v1M369.5 691v1M370.5 692v1M371.5 693v1M372.5 694v1M373.5 695v1M376.5 697v1M377.5 698v1M378.5 699v1M379.5 700v1M380.5 701v1M381.5 702v1M382.5 703v1M383.5 704v1M392.5 709v1M416.5 711v2M417.5 710v1M418.5 709v1M419.5 707v2M420.5 706v1M421.5 705v1M422.5 703v2M423.5 702v1M424.5 700v2M425.5 699v1M426.5 698v1M427.5 696v2M428.5 695v1M429.5 694v1M430.5 692v2M431.5 691v1M432.5 689v2M433.5 687v2M434.5 686v1M435.5 684v2M436.5 682v2M437.5 681v1M438.5 679v2M439.5 677v2M440.5 675v2M441.5 674v1M442.5 672v2M443.5 670v2M444.5 669v1M445.5 667v2M446.5 665v2M447.5 664v1M448.5 663v1M449.5 662v1M452.5 660v1M453.5 659v1M454.5 658v1M455.5 657v1M456.5 656v1M457.5 655v1M460.5 653v1M461.5 652v1M462.5 651v1M463.5 650v1M464.5 651v1M465.5 652v1M466.5 653v1M467.5 654v1M468.5 655v1M469.5 656v1M472.5 658v1M473.5 659v1M474.5 660v1M475.5 661v1M476.5 662v1M477.5 663v1M478.5 664v1M479.5 665v1M480.5 666v2M481.5 668v1M482.5 669v2M483.5 671v2M484.5 673v1M485.5 674v2M486.5 676v1M487.5 677v2M488.5 679v1M489.5 680v2M490.5 682v1M491.5 683v2M492.5 685v2M493.5 687v1M494.5 688v2M495.5 690v1M496.5 689v1M497.5 688v1M498.5 687v1M499.5 686v1M500.5 685v1M501.5 684v1M502.5 683v1M503.5 682v1M504.5 681v1M505.5 680v1M506.5 679v1M507.5 678v1M508.5 677v1M509.5 676v1M510.5 675v1M511.5 674v1M514.5 672v1M515.5 671v1M518.5 669v1M519.5 668v1M522.5 666v1M523.5 665v1M526.5 663v1M527.5 662v1M528.5 663v1M529.5 664v1M530.5 665v2M531.5 667v1M532.5 668v1M533.5 669v1M534.5 670v1M535.5 671v2M536.5 673v1M537.5 674v1M538.5 675v1M539.5 676v1M540.5 677v2M541.5 679v1M542.5 680v1M543.5 681v2M544.5 683v2M545.5 685v2M546.5 687v3M547.5 690v2M548.5 692v2M549.5 694v3M550.5 697v2M551.5 699v2M552.5 701v2M553.5 703v3M554.5 706v2M555.5 708v2M556.5 710v3M557.5 713v2M558.5 715v2M559.5 717v1M576.5 718v1M577.5 717v1M578.5 716v1M579.5 715v1M580.5 714v1M581.5 713v1M584.5 711v1M585.5 710v1M586.5 709v1M587.5 708v1M588.5 707v1M589.5 706v1M590.5 705v1M591.5 704v1M592.5 703v1M593.5 702v1M594.5 701v1M595.5 699v2M596.5 698v1M597.5 697v1M598.5 696v1M599.5 695v1M600.5 694v1M601.5 693v1M602.5 692v1M603.5 690v2M604.5 689v1M605.5 688v1M606.5 687v1M607.5 686v1M610.5 684v1M613.5 682v1M616.5 680v1M617.5 679v1M620.5 677v1M640.5 682v2M641.5 684v1M642.5 685v1M643.5 686v2M644.5 688v1M645.5 689v1M646.5 690v2M647.5 692v1M648.5 693v2M649.5 695v1M650.5 696v1M651.5 697v2M652.5 699v1M653.5 700v1M654.5 701v2M655.5 703v2M656.5 705v2M657.5 707v2M658.5 709v2M659.5 711v2M660.5 713v3M661.5 716v2M662.5 718v2M663.5 720v2M664.5 722v2M665.5 724v2M666.5 726v3M667.5 729v2M668.5 731v2M669.5 733v2M670.5 735v2M671.5 737v1M688.5 736v1M689.5 735v1M692.5 733v1M693.5 732v1M694.5 731v1M695.5 730v1M696.5 729v1M697.5 728v1M700.5 726v1M701.5 725v1M702.5 724v1M703.5 723v1M704.5 721v2M705.5 719v2M706.5 717v2M707.5 715v2M708.5 713v2M709.5 711v2M710.5 709v2M711.5 707v2M712.5 705v2M713.5 703v2M714.5 701v2M715.5 699v2M716.5 697v2M717.5 695v2M718.5 693v2M719.5 692v1M724.5 689v1M727.5 687v1M732.5 684v1M735.5 682v1M744.5 687v1M751.5 691v1M752.5 692v2M753.5 694v2M754.5 696v1M755.5 697v2M756.5 699v1M757.5 700v2M758.5 702v2M759.5 704v1M760.5 705v2M761.5 707v2M762.5 709v1M763.5 710v2M764.5 712v1M765.5 713v2M766.5 715v2M784.5 716v1M785.5 715v1M786.5 714v1M787.5 713v1M788.5 712v1M789.5 711v1M790.5 710v1M791.5 708v2M792.5 707v1M793.5 706v1M794.5 705v1M795.5 704v1M796.5 703v1M797.5 702v1M798.5 701v1M799.5 700v1M800.5 699v1M801.5 698v1M802.5 697v1M803.5 696v1M804.5 695v1M805.5 694v1M806.5 693v1M807.5 692v1M808.5 691v1M809.5 690v1M810.5 689v1M811.5 688v1M812.5 687v1M813.5 686v1M814.5 685v1M831.5 689v1M832.5 690v3M833.5 693v3M834.5 696v3M835.5 699v3M836.5 702v3M837.5 705v3M838.5 708v3M839.5 711v2M840.5 713v3M841.5 716v3M842.5 719v3M843.5 722v3M844.5 725v3M845.5 728v3M846.5 731v3M847.5 734v1M928.5 740v2M929.5 739v1M930.5 737v2M931.5 736v1M932.5 735v1M933.5 733v2M934.5 732v1M935.5 730v2M936.5 729v1M937.5 727v2M938.5 726v1M939.5 725v1M940.5 723v2M941.5 722v1M942.5 720v2M943.5 719v1M944.5 717v2M945.5 715v2M946.5 714v1M947.5 712v2M948.5 711v1M949.5 709v2M950.5 707v2M951.5 706v1M952.5 704v2M953.5 702v2M954.5 701v1M955.5 699v2M956.5 698v1M957.5 696v2M958.5 694v2M959.5 693v1M964.5 696v1M967.5 698v1M972.5 701v1M992.5 699v1M993.5 700v1M996.5 702v1M997.5 703v1M998.5 704v1M999.5 705v1M1000.5 706v1M1001.5 707v1M1004.5 709v1M1005.5 710v1M1006.5 711v1M1007.5 712v1M1016.5 707v1M1040.5 703v1M1041.5 702v1M1042.5 701v1M1043.5 699v2M1044.5 698v1M1045.5 697v1M1046.5 696v1M1047.5 695v1M1048.5 694v1M1049.5 693v1M1050.5 692v1M1051.5 690v2M1052.5 689v1M1053.5 688v1M1054.5 687v1M1088.5 675v2M1089.5 677v1M1090.5 678v2M1091.5 680v1M1092.5 681v1M1093.5 682v2M1094.5 684v1M1095.5 685v2M1096.5 687v1M1097.5 688v2M1098.5 690v1M1099.5 691v1M1100.5 692v2M1101.5 694v1M1102.5 695v2M1122.5 698v1M1123.5 697v1M1126.5 695v1M1127.5 694v1M1130.5 692v1M1131.5 691v1M1134.5 689v1M1135.5 687v2M1136.5 685v2M1137.5 683v2M1138.5 681v2M1139.5 679v2M1140.5 677v2M1141.5 675v2M1142.5 673v2M1143.5 670v3M1144.5 668v2M1145.5 666v2M1146.5 664v2M1147.5 662v2M1148.5 660v2M1149.5 658v2M1150.5 656v2M1151.5 654v2M1152.5 653v1M1153.5 652v1M1154.5 651v1M1155.5 649v2M1156.5 648v1M1157.5 647v1M1158.5 646v1M1159.5 645v1M1160.5 644v1M1161.5 643v1M1162.5 642v1M1163.5 640v2M1164.5 639v1M1165.5 638v1M1166.5 637v1" stroke="#20B2AA" stroke-width="1" fill="none"/>
<path d="M0 644.5h2M5 641.5h2M18 634.5h2M23 633.5h3M30 631.5h2M35 632.5h3M41 633.5h3M47 634.5h3M53 635.5h3M59 636.5h2M127 717.5h2M132 717.5h3M138 717.5h3M175 687.5h2M180 687.5h3M186 688.5h3M240 745.5h3M246 746.5h3M252 747.5h3M258 747.5h2M264 748.5h3M270 749.5h3M276 749.5h3M282 749.5h3M288 749.5h2M294 747.5h3M300 746.5h2M306 743.5h2M313 739.5h2M324 732.5h2M355 705.5h2M367 697.5h2M372 696.5h3M378 696.5h2M385 696.5h2M390 698.5h2M396 701.5h2M402 703.5h2M409 706.5h2M414 708.5h3M420 707.5h3M426 707.5h2M468 665.5h2M475 661.5h2M480 660.5h2M486 663.5h2M493 667.5h2M499 670.5h2M505 673.5h2M511 676.5h2M516 676.5h3M522 675.5h3M528 675.5h2M534 674.5h2M541 672.5h2M579 708.5h2M585 711.5h2M592 713.5h2M598 709.5h2M627 686.5h2M634 683.5h2M639 681.5h2M646 684.5h2M652 686.5h2M687 726.5h2M693 729.5h2M699 732.5h2M744 693.5h2M756 691.5h2M763 695.5h2M768 698.5h2M774 702.5h2M781 707.5h2M786 709.5h3M792 710.5h3M798 711.5h2M810 703.5h2M816 699.5h2M829 691.5h2M840 697.5h2M882 741.5h3M888 742.5h3M894 743.5h3M900 744.5h3M906 744.5h2M912 745.5h3M918 745.5h3M924 745.5h3M930 743.5h2M937 739.5h2M977 704.5h2M982 702.5h3M988 700.5h2M994 700.5h2M1000 702.5h3M1006 704.5h3M1012 704.5h3M1018 704.5h3M1024 704.5h3M1030 705.5h3M1036 706.5h3M1042 704.5h2M1049 700.5h2M1055 697.5h2M1061 694.5h2M1066 692.5h2M1072 689.5h2M1085 681.5h2M1090 681.5h3M1096 682.5h3M1102 683.5h3M1109 686.5h2M1115 689.5h2M1120 691.5h2M1126 692.5h2M1133 694.5h2M7.5 640v1M11.5 638v1M12.5 637v1M13.5 636v1M17.5 635v1M29.5 632v1M61.5 637v1M65.5 639v1M66.5 640v2M70.5 645v1M71.5 646v2M75.5 651v1M76.5 652v2M80.5 657v1M81.5 658v2M84.5 663v1M85.5 664v1M86.5 665v1M89.5 669v1M90.5 670v2M93.5 675v1M94.5 676v1M95.5 677v1M98.5 681v2M99.5 683v1M101.5 687v1M102.5 688v1M103.5 689v1M105.5 693v1M106.5 694v1M107.5 695v1M109.5 699v1M110.5 700v2M114.5 705v1M115.5 706v1M116.5 707v1M120.5 710v1M121.5 711v1M122.5 712v1M126.5 716v1M144.5 716v1M145.5 715v1M146.5 714v1M150.5 711v1M151.5 710v1M152.5 709v1M156.5 706v1M157.5 705v1M158.5 704v1M162.5 700v1M163.5 699v1M164.5 698v1M168.5 694v1M169.5 693v1M170.5 692v1M174.5 688v1M192.5 689v1M193.5 690v2M196.5 695v1M197.5 696v1M198.5 697v1M201.5 701v1M202.5 702v2M205.5 707v1M206.5 708v1M207.5 709v1M210.5 713v2M211.5 715v1M214.5 719v1M215.5 720v2M218.5 725v1M219.5 726v1M220.5 727v1M222.5 731v1M223.5 732v1M224.5 733v1M228.5 736v1M229.5 737v1M230.5 738v1M234.5 741v1M235.5 742v1M236.5 743v1M260.5 748v1M290.5 748v1M302.5 745v1M308.5 742v1M312.5 740v1M318.5 737v1M319.5 736v1M320.5 735v1M326.5 731v1M330.5 728v1M331.5 727v1M332.5 726v1M336.5 723v1M337.5 722v1M338.5 721v1M342.5 717v1M343.5 716v1M344.5 715v1M348.5 711v1M349.5 710v1M350.5 709v1M354.5 706v1M360.5 702v1M361.5 701v1M362.5 700v1M366.5 698v1M380.5 695v1M384.5 695v1M392.5 699v1M398.5 702v1M404.5 704v1M408.5 705v1M428.5 706v1M432.5 705v1M433.5 704v1M434.5 703v1M437.5 699v1M438.5 698v1M439.5 697v1M443.5 692v2M444.5 691v1M448.5 687v1M449.5 685v2M453.5 680v2M454.5 679v1M457.5 675v1M458.5 674v1M459.5 673v1M462.5 669v1M463.5 668v1M464.5 667v1M470.5 664v1M474.5 662v1M482.5 661v1M488.5 664v1M492.5 666v1M498.5 669v1M504.5 672v1M510.5 675v1M530.5 674v1M536.5 673v1M540.5 673v1M546.5 675v1M547.5 676v1M548.5 677v1M552.5 680v1M553.5 681v1M554.5 682v1M558.5 686v1M559.5 687v1M560.5 688v1M563.5 692v1M564.5 693v1M565.5 694v1M568.5 698v1M569.5 699v1M570.5 700v1M573.5 704v1M574.5 705v1M575.5 706v1M581.5 709v1M587.5 712v1M591.5 714v1M597.5 710v1M603.5 706v1M604.5 705v1M605.5 704v1M609.5 701v1M610.5 700v1M611.5 699v1M615.5 696v1M616.5 695v1M617.5 694v1M621.5 690v1M622.5 689v1M623.5 688v1M629.5 685v1M633.5 684v1M641.5 682v1M645.5 683v1M651.5 685v1M657.5 689v2M658.5 691v1M661.5 695v1M662.5 696v1M663.5 697v1M666.5 701v1M667.5 702v1M668.5 703v1M671.5 707v1M672.5 708v1M673.5 709v1M676.5 713v1M677.5 714v1M678.5 715v1M681.5 719v1M682.5 720v1M683.5 721v1M686.5 725v1M692.5 728v1M698.5 731v1M704.5 733v1M705.5 732v1M706.5 731v1M710.5 727v1M711.5 725v2M715.5 721v1M716.5 720v1M717.5 719v1M721.5 715v1M722.5 714v1M723.5 713v1M727.5 708v2M728.5 707v1M732.5 703v1M733.5 702v1M734.5 701v1M738.5 698v1M739.5 697v1M740.5 696v1M746.5 692v1M750.5 689v1M751.5 688v1M752.5 689v1M758.5 692v1M762.5 694v1M770.5 699v1M776.5 703v1M780.5 706v1M800.5 710v1M804.5 708v1M805.5 707v1M806.5 706v1M812.5 702v1M818.5 698v1M822.5 696v1M823.5 695v1M824.5 694v1M828.5 692v1M834.5 692v1M835.5 693v1M836.5 694v1M842.5 698v1M846.5 701v1M847.5 702v1M848.5 703v1M851.5 707v1M852.5 708v1M853.5 709v1M857.5 713v1M858.5 714v1M859.5 715v1M862.5 719v1M863.5 720v1M864.5 721v1M867.5 725v1M868.5 726v1M869.5 727v1M872.5 731v1M873.5 732v2M877.5 737v2M878.5 739v1M908.5 745v1M932.5 742v1M936.5 740v1M942.5 737v1M943.5 736v1M944.5 735v1M947.5 731v1M948.5 730v1M949.5 729v1M953.5 725v1M954.5 724v1M955.5 723v1M958.5 719v1M959.5 718v1M960.5 717v1M964.5 714v1M965.5 713v1M966.5 712v1M970.5 709v1M971.5 708v1M972.5 707v1M976.5 705v1M990.5 699v1M996.5 701v1M1044.5 703v1M1048.5 701v1M1054.5 698v1M1060.5 695v1M1068.5 691v1M1074.5 688v1M1078.5 686v1M1079.5 685v1M1080.5 684v1M1084.5 682v1M1108.5 685v1M1114.5 688v1M1122.5 692v1M1128.5 693v1M1132.5 693v1M1138.5 692v1M1139.5 691v1M1140.5 690v1M1144.5 687v1M1145.5 686v1M1146.5 685v1M1150.5 682v1M1151.5 681v1M1152.5 680v1M1155.5 676v1M1156.5 674v2M1159.5 670v1M1160.5 669v1M1161.5 668v1M1164.5 664v1M1165.5 662v2M1169.5 657v2M1170.5 656v1M1173.5 652v1M1174.5 651v1M1175.5 650v1M1178.5 646v1M1179.5 645v1M1180.5 644v1M1183.5 640v1" stroke="#FF0000" stroke-width="1" fill="none"/>
<text x="3.3" y="628" font-size="9.8" fill="#FFF" font-family="'Liberation Sans', sans-serif" textLength="121.7" lengthAdjust="spacingAndGlyphs" stroke="#FFF" stroke-width="0.1">Stoch(5,3,3) 90.3469 83.7920</text>
<text x="1527" y="626" font-size="9.8" fill="#FFF" font-family="'Liberation Sans', sans-serif" textLength="15.1" lengthAdjust="spacingAndGlyphs" stroke="#FFF" stroke-width="0.1">100</text>
<text x="1526.2" y="650" font-size="9.8" fill="#FFF" font-family="'Liberation Sans', sans-serif" textLength="10.0" lengthAdjust="spacingAndGlyphs" stroke="#FFF" stroke-width="0.1">80</text>
<text x="1526.2" y="738" font-size="9.8" fill="#FFF" font-family="'Liberation Sans', sans-serif" textLength="10.0" lengthAdjust="spacingAndGlyphs" stroke="#FFF" stroke-width="0.1">20</text>
<text x="1526.2" y="761" font-size="9.8" fill="#FFF" font-family="'Liberation Sans', sans-serif" textLength="5.0" lengthAdjust="spacingAndGlyphs" stroke="#FFF" stroke-width="0.1">0</text>
<rect x="1524" y="617" width="1" height="1" fill="#FFF"/>
<rect x="1524" y="763" width="1" height="1" fill="#FFF"/>
<line x1="0" y1="801.5" x2="1522" y2="801.5" stroke="#C0C0C0" stroke-width="1" stroke-dasharray="3 3" stroke-dashoffset="0"/>
<line x1="0" y1="845.5" x2="1522" y2="845.5" stroke="#C0C0C0" stroke-width="1" stroke-dasharray="3 3" stroke-dashoffset="0"/>
<path d="M0 798.5h2M2 799.5h4M6 800.5h4M10 801.5h4M14 802.5h6M20 801.5h8M28 800.5h6M34 801.5h6M40 802.5h5M45 803.5h21M66 804.5h6M72 805.5h5M77 806.5h11M88 807.5h28M116 808.5h8M124 809.5h5M129 808.5h3M132 807.5h4M136 806.5h3M139 805.5h3M142 804.5h3M145 803.5h3M148 802.5h4M152 801.5h3M155 800.5h3M158 799.5h2M166 806.5h2M176 815.5h2M179 817.5h2M182 819.5h2M186 822.5h2M189 824.5h2M191 825.5h2M193 826.5h3M196 827.5h4M200 828.5h3M203 829.5h3M206 830.5h6M212 831.5h8M220 832.5h21M241 833.5h2M243 834.5h2M245 835.5h3M248 836.5h2M250 837.5h2M252 838.5h2M254 839.5h4M258 840.5h4M262 841.5h4M266 842.5h4M270 843.5h4M274 842.5h6M280 841.5h5M285 840.5h7M292 839.5h8M300 838.5h12M312 837.5h10M322 838.5h4M326 839.5h4M330 840.5h4M334 841.5h6M340 840.5h8M348 839.5h6M354 840.5h6M360 841.5h5M365 842.5h5M370 843.5h4M374 844.5h4M378 845.5h4M382 846.5h4M386 845.5h6M392 844.5h5M397 843.5h20M417 842.5h2M419 841.5h2M421 840.5h2M423 839.5h2M425 838.5h2M427 837.5h2M429 836.5h2M431 835.5h2M433 834.5h3M436 833.5h4M440 832.5h3M443 831.5h3M446 830.5h4M450 831.5h4M454 832.5h4M458 833.5h4M462 834.5h10M472 835.5h12M484 834.5h8M492 833.5h4M496 832.5h2M500 829.5h2M504 826.5h2M508 823.5h2M511 821.5h3M514 822.5h4M518 823.5h4M522 824.5h4M526 825.5h3M529 826.5h2M531 827.5h2M533 828.5h3M536 829.5h2M538 830.5h2M540 831.5h2M542 832.5h3M545 833.5h2M547 834.5h2M549 835.5h3M552 836.5h2M554 837.5h2M556 838.5h2M558 839.5h2M560 838.5h2M562 837.5h2M565 835.5h2M568 833.5h2M570 832.5h2M573 830.5h2M575 829.5h25M600 830.5h12M612 829.5h8M620 828.5h5M625 829.5h3M628 830.5h4M632 831.5h3M635 832.5h3M638 833.5h3M641 834.5h3M644 835.5h4M648 836.5h3M651 837.5h3M654 838.5h6M660 837.5h8M668 836.5h12M680 835.5h12M692 834.5h8M700 833.5h5M705 832.5h2M707 831.5h2M709 830.5h3M712 829.5h2M714 828.5h2M716 827.5h2M718 826.5h4M722 827.5h4M726 828.5h4M730 829.5h4M734 830.5h4M738 831.5h6M744 832.5h5M749 833.5h11M760 832.5h16M776 831.5h9M785 830.5h2M787 829.5h2M789 828.5h3M792 827.5h2M794 826.5h2M796 825.5h2M798 824.5h3M801 825.5h3M804 826.5h4M808 827.5h3M811 828.5h3M814 829.5h4M818 830.5h6M824 831.5h5M829 832.5h3M847 848.5h21M868 849.5h8M876 850.5h8M884 851.5h8M892 852.5h5M897 851.5h2M899 850.5h2M901 849.5h3M904 848.5h2M906 847.5h2M908 846.5h2M910 845.5h10M920 846.5h16M936 845.5h25M961 846.5h3M964 847.5h2M966 848.5h3M969 849.5h3M972 850.5h2M974 851.5h3M977 850.5h2M979 849.5h2M981 848.5h3M984 847.5h2M986 846.5h2M988 845.5h2M990 844.5h3M993 845.5h3M996 846.5h4M1000 847.5h3M1003 848.5h3M1006 849.5h3M1009 848.5h3M1012 847.5h2M1014 846.5h3M1017 845.5h3M1020 844.5h2M1022 843.5h22M1044 844.5h8M1052 845.5h6M1058 844.5h4M1062 843.5h4M1066 842.5h4M1070 841.5h6M1076 842.5h8M1084 843.5h5M1089 844.5h3M1092 845.5h4M1096 846.5h3M1099 847.5h3M1102 848.5h3M1105 847.5h3M1108 846.5h4M1112 845.5h3M1115 844.5h3M1118 843.5h3M1121 842.5h3M1124 841.5h2M1126 840.5h3M1129 839.5h3M1132 838.5h2M1134 837.5h6M1140 836.5h8M1148 835.5h6M1154 834.5h6M1160 833.5h5M1165 832.5h19M160.5 800v1M161.5 801v1M162.5 802v1M163.5 803v1M164.5 804v1M165.5 805v1M168.5 807v1M169.5 808v1M170.5 809v1M171.5 810v1M172.5 811v1M173.5 812v1M174.5 813v1M175.5 814v1M178.5 816v1M181.5 818v1M184.5 820v1M185.5 821v1M188.5 823v1M498.5 831v1M499.5 830v1M502.5 828v1M503.5 827v1M506.5 825v1M507.5 824v1M510.5 822v1M564.5 836v1M567.5 834v1M572.5 831v1M832.5 833v1M833.5 834v1M834.5 835v1M835.5 836v1M836.5 837v1M837.5 838v1M838.5 839v1M839.5 840v1M840.5 841v1M841.5 842v1M842.5 843v1M843.5 844v1M844.5 845v1M845.5 846v1M846.5 847v1" stroke="#1E90FF" stroke-width="1" fill="none"/>
<text x="3" y="778.8" font-size="9.8" fill="#FFF" font-family="'Liberation Sans', sans-serif" textLength="67.8" lengthAdjust="spacingAndGlyphs" stroke="#FFF" stroke-width="0.1">RSI(14) 41.5706</text>
<text x="1527" y="777" font-size="9.8" fill="#FFF" font-family="'Liberation Sans', sans-serif" textLength="15.1" lengthAdjust="spacingAndGlyphs" stroke="#FFF" stroke-width="0.1">100</text>
<text x="1526.2" y="805" font-size="9.8" fill="#FFF" font-family="'Liberation Sans', sans-serif" textLength="10.0" lengthAdjust="spacingAndGlyphs" stroke="#FFF" stroke-width="0.1">70</text>
<text x="1526.2" y="849" font-size="9.8" fill="#FFF" font-family="'Liberation Sans', sans-serif" textLength="10.0" lengthAdjust="spacingAndGlyphs" stroke="#FFF" stroke-width="0.1">30</text>
<text x="1526.2" y="876" font-size="9.8" fill="#FFF" font-family="'Liberation Sans', sans-serif" textLength="5.0" lengthAdjust="spacingAndGlyphs" stroke="#FFF" stroke-width="0.1">0</text>
<rect x="1524" y="768" width="1" height="1" fill="#FFF"/>
<rect x="1524" y="878" width="1" height="1" fill="#FFF"/>
<rect x="-1" y="880" width="1" height="3" fill="#FFF"/>
<text x="-1.8" y="892" font-size="9.8" fill="#FFF" font-family="'Liberation Sans', sans-serif" textLength="51.2" lengthAdjust="spacingAndGlyphs" stroke="#FFF" stroke-width="0.1">24 Dec 2021</text>
<rect x="63" y="880" width="1" height="3" fill="#FFF"/>
<text x="62.2" y="892" font-size="9.8" fill="#FFF" font-family="'Liberation Sans', sans-serif" textLength="54.5" lengthAdjust="spacingAndGlyphs" stroke="#FFF" stroke-width="0.1">24 Dec 16:00</text>
<rect x="127" y="880" width="1" height="3" fill="#FFF"/>
<text x="126.2" y="892" font-size="9.8" fill="#FFF" font-family="'Liberation Sans', sans-serif" textLength="54.5" lengthAdjust="spacingAndGlyphs" stroke="#FFF" stroke-width="0.1">27 Dec 08:00</text>
<rect x="191" y="880" width="1" height="3" fill="#FFF"/>
<text x="190.2" y="892" font-size="9.8" fill="#FFF" font-family="'Liberation Sans', sans-serif" textLength="54.5" lengthAdjust="spacingAndGlyphs" stroke="#FFF" stroke-width="0.1">28 Dec 00:00</text>
<rect x="255" y="880" width="1" height="3" fill="#FFF"/>
<text x="254.2" y="892" font-size="9.8" fill="#FFF" font-family="'Liberation Sans', sans-serif" textLength="54.5" lengthAdjust="spacingAndGlyphs" stroke="#FFF" stroke-width="0.1">28 Dec 16:00</text>
<rect x="319" y="880" width="1" height="3" fill="#FFF"/>
<text x="318.2" y="892" font-size="9.8" fill="#FFF" font-family="'Liberation Sans', sans-serif" textLength="54.5" lengthAdjust="spacingAndGlyphs" stroke="#FFF" stroke-width="0.1">29 Dec 08:00</text>
<rect x="383" y="880" width="1" height="3" fill="#FFF"/>
<text x="382.2" y="892" font-size="9.8" fill="#FFF" font-family="'Liberation Sans', sans-serif" textLength="54.5" lengthAdjust="spacingAndGlyphs" stroke="#FFF" stroke-width="0.1">30 Dec 00:00</text>
<rect x="447" y="880" width="1" height="3" fill="#FFF"/>
<text x="446.2" y="892" font-size="9.8" fill="#FFF" font-family="'Liberation Sans', sans-serif" textLength="54.5" lengthAdjust="spacingAndGlyphs" stroke="#FFF" stroke-width="0.1">30 Dec 16:00</text>
<rect x="511" y="880" width="1" height="3" fill="#FFF"/>
<text x="510.2" y="892" font-size="9.8" fill="#FFF" font-family="'Liberation Sans', sans-serif" textLength="54.5" lengthAdjust="spacingAndGlyphs" stroke="#FFF" stroke-width="0.1">31 Dec 08:00</text>
<rect x="575" y="880" width="1" height="3" fill="#FFF"/>
<text x="574.2" y="892" font-size="9.8" fill="#FFF" font-family="'Liberation Sans', sans-serif" textLength="47.9" lengthAdjust="spacingAndGlyphs" stroke="#FFF" stroke-width="0.1">3 Jan 00:00</text>
<rect x="639" y="880" width="1" height="3" fill="#FFF"/>
<text x="638.2" y="892" font-size="9.8" fill="#FFF" font-family="'Liberation Sans', sans-serif" textLength="47.9" lengthAdjust="spacingAndGlyphs" stroke="#FFF" stroke-width="0.1">3 Jan 16:00</text>
<rect x="703" y="880" width="1" height="3" fill="#FFF"/>
<text x="702.2" y="892" font-size="9.8" fill="#FFF" font-family="'Liberation Sans', sans-serif" textLength="47.9" lengthAdjust="spacingAndGlyphs" stroke="#FFF" stroke-width="0.1">4 Jan 08:00</text>
<rect x="767" y="880" width="1" height="3" fill="#FFF"/>
<text x="766.2" y="892" font-size="9.8" fill="#FFF" font-family="'Liberation Sans', sans-serif" textLength="47.9" lengthAdjust="spacingAndGlyphs" stroke="#FFF" stroke-width="0.1">5 Jan 00:00</text>
<rect x="831" y="880" width="1" height="3" fill="#FFF"/>
<text x="830.2" y="892" font-size="9.8" fill="#FFF" font-family="'Liberation Sans', sans-serif" textLength="47.9" lengthAdjust="spacingAndGlyphs" stroke="#FFF" stroke-width="0.1">5 Jan 16:00</text>
<rect x="895" y="880" width="1" height="3" fill="#FFF"/>
<text x="894.2" y="892" font-size="9.8" fill="#FFF" font-family="'Liberation Sans', sans-serif" textLength="47.9" lengthAdjust="spacingAndGlyphs" stroke="#FFF" stroke-width="0.1">6 Jan 08:00</text>
<rect x="959" y="880" width="1" height="3" fill="#FFF"/>
<text x="958.2" y="892" font-size="9.8" fill="#FFF" font-family="'Liberation Sans', sans-serif" textLength="47.9" lengthAdjust="spacingAndGlyphs" stroke="#FFF" stroke-width="0.1">7 Jan 00:00</text>
<rect x="1023" y="880" width="1" height="3" fill="#FFF"/>
<text x="1022.2" y="892" font-size="9.8" fill="#FFF" font-family="'Liberation Sans', sans-serif" textLength="47.9" lengthAdjust="spacingAndGlyphs" stroke="#FFF" stroke-width="0.1">7 Jan 16:00</text>
<rect x="1087" y="880" width="1" height="3" fill="#FFF"/>
<text x="1086.2" y="892" font-size="9.8" fill="#FFF" font-family="'Liberation Sans', sans-serif" textLength="52.9" lengthAdjust="spacingAndGlyphs" stroke="#FFF" stroke-width="0.1">10 Jan 08:00</text>
<rect x="1151" y="880" width="1" height="3" fill="#FFF"/>
<text x="1150.2" y="892" font-size="9.8" fill="#FFF" font-family="'Liberation Sans', sans-serif" textLength="52.9" lengthAdjust="spacingAndGlyphs" stroke="#FFF" stroke-width="0.1">11 Jan 00:00</text>
<rect x="2" y="3" width="7" height="1" fill="#FFF"/>
<rect x="3" y="4" width="5" height="1" fill="#FFF"/>
<rect x="4" y="5" width="3" height="1" fill="#FFF"/>
<rect x="5" y="6" width="1" height="1" fill="#FFF"/>
<text x="14" y="8" font-size="9.8" fill="#FFF" font-family="'Liberation Sans', sans-serif" textLength="54" lengthAdjust="spacingAndGlyphs" stroke="#FFF" stroke-width="0.1">BTCUSD,H4</text>
<text x="73.7" y="8" font-size="9.8" fill="#FFF" font-family="'Liberation Sans', sans-serif" textLength="38" lengthAdjust="spacingAndGlyphs" stroke="#FFF" stroke-width="0.1">41981.71</text>
<text x="114.7" y="8" font-size="9.8" fill="#FFF" font-family="'Liberation Sans', sans-serif" textLength="38" lengthAdjust="spacingAndGlyphs" stroke="#FFF" stroke-width="0.1">42097.57</text>
<text x="155.7" y="8" font-size="9.8" fill="#FFF" font-family="'Liberation Sans', sans-serif" textLength="38" lengthAdjust="spacingAndGlyphs" stroke="#FFF" stroke-width="0.1">41955.94</text>
<text x="196.7" y="8" font-size="9.8" fill="#FFF" font-family="'Liberation Sans', sans-serif" textLength="38" lengthAdjust="spacingAndGlyphs" stroke="#FFF" stroke-width="0.1">41990.42</text>
<rect x="1215" y="0" width="3" height="1" fill="#98A8B8"/>
<rect x="1216" y="1" width="1" height="1" fill="#98A8B8"/>
</svg>
</body></html>
